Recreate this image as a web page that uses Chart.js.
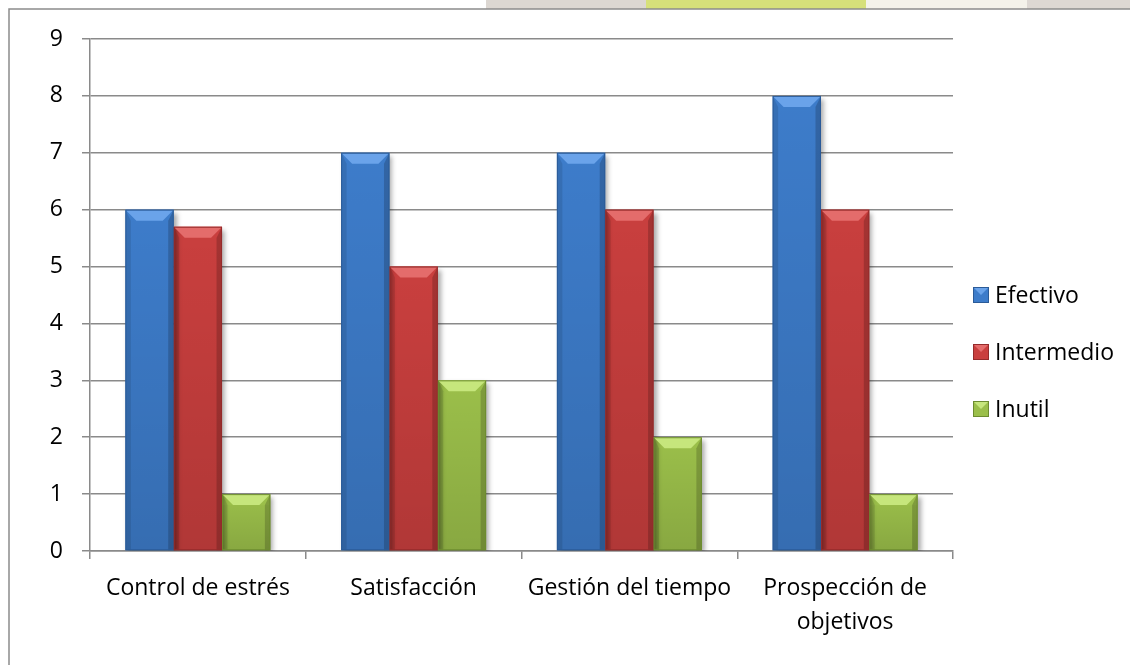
<!DOCTYPE html>
<html>
<head>
<meta charset="utf-8">
<script src="https://cdn.jsdelivr.net/npm/chart.js@4.4.1/dist/chart.umd.min.js"></script>
<style>
  html, body { margin: 0; padding: 0; }
  body {
    width: 1130px; height: 665px; overflow: hidden; background: #fff;
    background-image:
      linear-gradient(90deg, #fff 0 486px, #dcd7d2 486px 646px, #d6e07a 646px 866px, #f4f2ea 866px 1027px, #ddd8d3 1027px);
    background-size: 1130px 9px;
    background-repeat: no-repeat;
  }
  #wrap { position: absolute; left: 0; top: 0; width: 1130px; height: 665px; }
</style>
</head>
<body>
<div id="wrap"><canvas id="bar-chart"></canvas></div>
<script>
// datos del gráfico
const categories = ['Control de estrés', 'Satisfacción', 'Gestión del tiempo', ['Prospección de', 'objetivos']];
const seriesNames = ['Efectivo', 'Intermedio', 'Inutil'];
const efectivo = [6, 7, 7, 8];
const intermedio = [5.7, 5, 6, 6];
const inutil = [1, 3, 2, 1];
const yTicks = [0, 1, 2, 3, 4, 5, 6, 7, 8, 9];

// colores: cara, borde oscuro, bisel claro
const palette = [
    { face: '#3d7cca', edge: '#2b5b98', light: '#6aa3ea' },
    { face: '#c93f3e', edge: '#952b2b', light: '#e46c6b' },
    { face: '#9bbf4a', edge: '#6d8c2f', light: '#c6e67c' }
];
const FONT = '"Open Sans", sans-serif';

function bevel(ctx, left, top, right, bottom, c, b) {
    ctx.fillStyle = c.light;
    ctx.beginPath();
    ctx.moveTo(left, top); ctx.lineTo(right, top);
    ctx.lineTo(right - b, top + b); ctx.lineTo(left + b, top + b);
    ctx.closePath(); ctx.fill();
    ctx.fillStyle = 'rgba(0,0,0,0.1)';
    ctx.beginPath();
    ctx.moveTo(left, top); ctx.lineTo(left + b * 0.5, top + b);
    ctx.lineTo(left + b * 0.5, bottom); ctx.lineTo(left, bottom);
    ctx.closePath(); ctx.fill();
    ctx.fillStyle = 'rgba(0,0,0,0.18)';
    ctx.beginPath();
    ctx.moveTo(right, top); ctx.lineTo(right - b * 0.5, top + b);
    ctx.lineTo(right - b * 0.5, bottom); ctx.lineTo(right, bottom);
    ctx.closePath(); ctx.fill();
    const g = ctx.createLinearGradient(0, top, 0, bottom);
    g.addColorStop(0, 'rgba(0,0,0,0)');
    g.addColorStop(1, 'rgba(0,0,0,0.12)');
    ctx.fillStyle = g;
    ctx.fillRect(left, top + b, right - left, bottom - top - b);
    ctx.strokeStyle = c.edge;
    ctx.lineWidth = 1;
    ctx.strokeRect(left + 0.5, top + 0.5, right - left - 1, bottom - top - 1);
}

const barStyle = {
    id: 'barStyle',
    beforeDatasetsDraw(chart) {
        const ctx = chart.ctx;
        ctx.save();
        ctx.shadowColor = 'rgba(0,0,0,0.35)';
        ctx.shadowBlur = 5;
        ctx.shadowOffsetX = 3;
        ctx.shadowOffsetY = 3;
    },
    afterDatasetsDraw(chart) {
        const ctx = chart.ctx;
        ctx.restore();
        chart.data.datasets.forEach((ds, i) => {
            const meta = chart.getDatasetMeta(i);
            meta.data.forEach(el => {
                const p = el.getProps(['x', 'y', 'base', 'width'], true);
                const l = p.x - p.width / 2, r = p.x + p.width / 2;
                const b = Math.min(11, (p.base - p.y) / 2);
                bevel(ctx, l, p.y, r, p.base, palette[i], b);
            });
        });
    },
    afterDraw(chart) {
        const ctx = chart.ctx;
        // marco del gráfico
        ctx.save();
        ctx.strokeStyle = '#8c8c8c';
        ctx.lineWidth = 1.5;
        ctx.beginPath();
        ctx.moveTo(9, chart.height); ctx.lineTo(9, 9); ctx.lineTo(chart.width, 9);
        ctx.stroke();
        // leyenda
        const x0 = chart.chartArea.right + 20;
        const yc = (chart.chartArea.top + chart.height) / 2;
        ctx.font = '23px ' + FONT;
        ctx.textBaseline = 'middle';
        chart.data.datasets.forEach((ds, i) => {
            const y = yc + (i - 1) * 57;
            ctx.fillStyle = palette[i].face;
            ctx.fillRect(x0, y - 8, 16, 16);
            ctx.fillStyle = palette[i].light;
            ctx.beginPath();
            ctx.moveTo(x0, y - 8); ctx.lineTo(x0 + 16, y - 8); ctx.lineTo(x0 + 8, y); ctx.closePath();
            ctx.fill();
            ctx.strokeStyle = palette[i].edge;
            ctx.lineWidth = 1;
            ctx.strokeRect(x0 + 0.5, y - 7.5, 15, 15);
            ctx.fillStyle = '#000';
            ctx.fillText(ds.label, x0 + 22, y + 1);
        });
        ctx.restore();
    }
};

document.addEventListener('DOMContentLoaded', function () {
    const ctx = document.getElementById('bar-chart').getContext('2d');
    const values = [efectivo, intermedio, inutil];

    const barChart = new Chart(ctx, {
        type: 'bar',
        data: {
            labels: categories,
            datasets: seriesNames.map((name, i) => ({
                label: name,
                data: values[i],
                backgroundColor: palette[i].face,
                borderWidth: 0,
                categoryPercentage: 0.672,
                barPercentage: 1.0
            }))
        },
        options: {
            responsive: true,
            maintainAspectRatio: false,
            animation: false,
            layout: { padding: { left: 0, top: 39, right: 177, bottom: 0 } },
            plugins: {
                legend: { display: false },
                tooltip: { enabled: false }
            },
            scales: {
                x: {
                    grid: {
                        offset: true,
                        drawOnChartArea: false,
                        drawTicks: true,
                        tickLength: 8,
                        color: '#8a8a8a',
                        lineWidth: 1.5
                    },
                    border: { color: '#8a8a8a', width: 1.5 },
                    ticks: {
                        color: '#000',
                        padding: 12,
                        maxRotation: 0,
                        font: { family: FONT, size: 23, lineHeight: 1.48 }
                    },
                    afterFit(axis) { axis.height = 114; }
                },
                y: {
                    min: 0,
                    max: 9,
                    afterBuildTicks(axis) { axis.ticks = yTicks.map(v => ({ value: v })); },
                    grid: {
                        color: '#8a8a8a',
                        lineWidth: 1.5,
                        tickLength: 8
                    },
                    border: { color: '#8a8a8a', width: 1.5 },
                    ticks: {
                        color: '#000',
                        padding: 19,
                        font: { family: FONT, size: 23 }
                    },
                    afterFit(axis) { axis.width = 90; }
                }
            }
        },
        plugins: [barStyle]
    });

    console.log('Bar chart initialized:', barChart);
});
</script>
</body>
</html>
